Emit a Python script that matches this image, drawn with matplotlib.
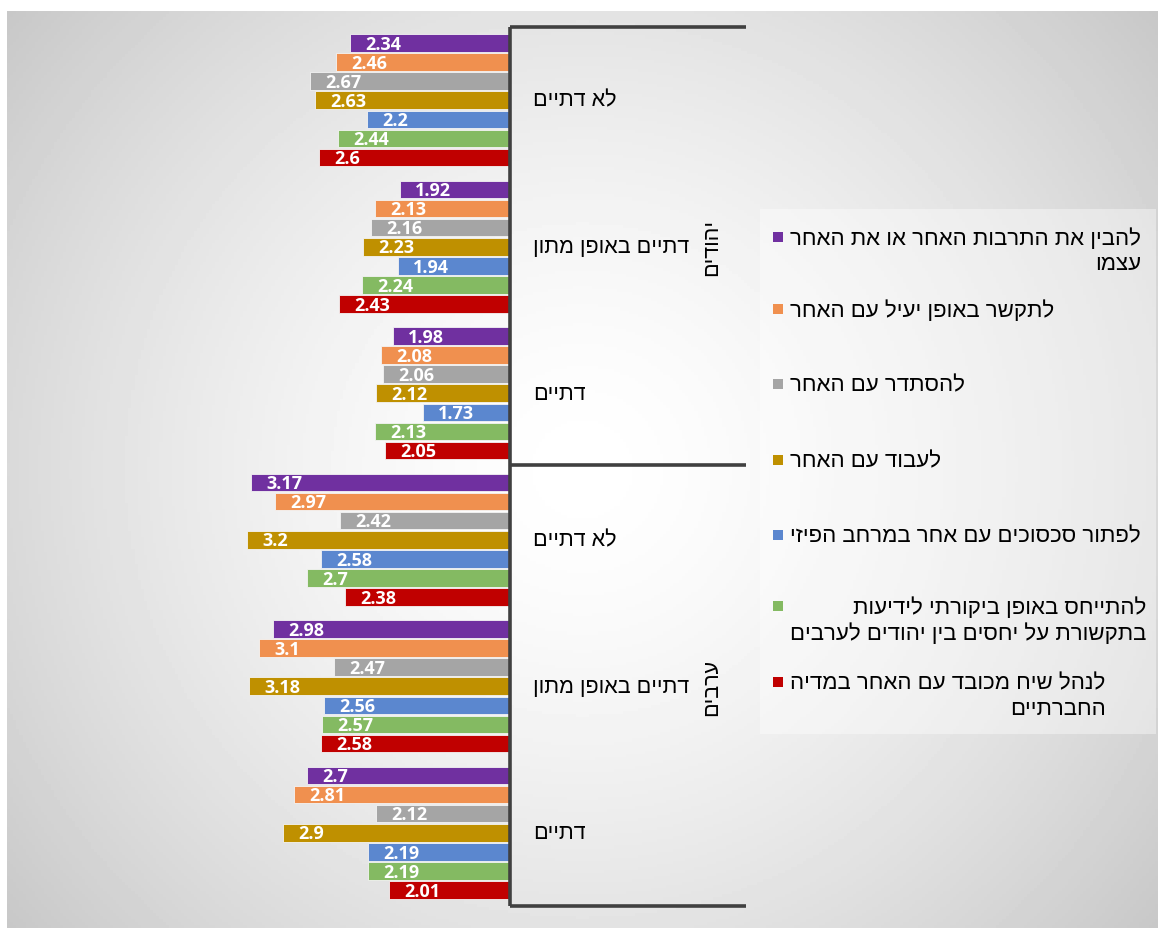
import numpy as np
import matplotlib.pyplot as plt
from matplotlib.lines import Line2D
from matplotlib.patches import Rectangle

plt.rcParams['font.family'] = ['Liberation Sans', 'DejaVu Sans']

# data (top group first, series in legend order)
groups = ['לא דתיים', 'דתיים באופן מתון', 'דתיים',
          'לא דתיים', 'דתיים באופן מתון', 'דתיים']
outer = ['יהודים', 'ערבים']
series = [
    'להבין את התרבות האחר או את האחר\nעצמו',
    'לתקשר באופן יעיל עם האחר',
    'להסתדר עם האחר',
    'לעבוד עם האחר',
    'לפתור סכסוכים עם אחר במרחב הפיזי',
    'להתייחס באופן ביקורתי לידיעות\nבתקשורת על יחסים בין יהודים לערבים',
    'לנהל שיח מכובד עם האחר במדיה\nהחברתיים',
]
values = [
    [2.34, 2.46, 2.67, 2.63, 2.2, 2.44, 2.6],
    [1.92, 2.13, 2.16, 2.23, 1.94, 2.24, 2.43],
    [1.98, 2.08, 2.06, 2.12, 1.73, 2.13, 2.05],
    [3.17, 2.97, 2.42, 3.2, 2.58, 2.7, 2.38],
    [2.98, 3.1, 2.47, 3.18, 2.56, 2.57, 2.58],
    [2.7, 2.81, 2.12, 2.9, 2.19, 2.19, 2.01],
]
colors = ['#7030A0', '#F0904F', '#A5A5A5', '#BF9000', '#5B87CF', '#84BA62', '#C00000']


def heb(s):
    # matplotlib has no bidi support: reverse each line for visual order
    return '\n'.join(line[::-1] for line in s.split('\n'))


W, H = 1158, 929
fig = plt.figure(figsize=(W / 100, H / 100), dpi=100)
fig.patch.set_facecolor('white')

# gray radial gradient box
bg = fig.add_axes([7 / W, 0, 1 - 7 / W, 1 - 12 / H])
bg.set_axis_off()
yy, xx = np.mgrid[0:1:300j, 0:1:370j]
r = np.sqrt(((xx - 0.5) / 0.65) ** 2 + ((yy - 0.5) / 0.8) ** 2)
shade = np.clip(1 - 0.22 * r ** 1.5, 0.78, 1)
bg.imshow(shade, cmap='gray', vmin=0, vmax=1, aspect='auto', extent=[0, 1, 0, 1])

# bar axes
ax = fig.add_axes([32 / W, 1 - 907 / H, (510 - 32) / W, 879 / H])
ax.patch.set_alpha(0)
step = 19.1 / 146.5
for i, row in enumerate(values):
    for j, v in enumerate(row):
        y = i + 0.5 + (j - 3) * step
        ax.barh(y, v - 1, left=1, height=0.12, color=colors[j],
                edgecolor='#f4f4f4', linewidth=0.6)
        ax.annotate(f'{v:g}', (v, y), xytext=(11, -0.5), textcoords='offset points',
                    ha='left', va='center', color='white', fontsize=13,
                    fontweight='bold', family=['Open Sans', 'DejaVu Sans'])
ax.set_xlim(5, 1)
ax.set_ylim(6, 0)
ax.set_axis_off()

# multi-level category axis
ln = dict(color='#404040', linewidth=2.6, transform=fig.transFigure, solid_capstyle='butt')
def fx(px): return px / W
def fy(py): return 1 - py / H
fig.add_artist(Line2D([fx(510), fx(510)], [fy(28), fy(907)], **ln))
for py in (28, 466, 907):
    fig.add_artist(Line2D([fx(510), fx(746)], [fy(py), fy(py)], **ln))

for i, g in enumerate(groups):
    fig.text(fx(533), fy(28 + 146.5 * (i + 0.5)), heb(g), ha='left', va='center',
             fontsize=15.5, color='black')
for k, o in enumerate(outer):
    fig.text(fx(712), fy(28 + 146.5 * (3 * k + 1.5)), heb(o), ha='center', va='center',
             rotation=90, fontsize=15.5, color='black')

# legend
fig.add_artist(Rectangle((fx(760), fy(735)), fx(1156) - fx(760), fy(210) - fy(735),
                         transform=fig.transFigure, facecolor='white', alpha=0.4,
                         edgecolor='none'))
leg_y = [238, 310, 385, 461, 536, 607, 683]
for k, s in enumerate(series):
    fig.add_artist(Rectangle((fx(773), fy(leg_y[k] + 5)), 10 / W, 10 / H,
                             transform=fig.transFigure, facecolor=colors[k],
                             edgecolor='none'))
    fig.text(fx(790), fy(leg_y[k] - 10), heb(s), ha='left', va='top',
             multialignment='right', fontsize=16, color='black', linespacing=1.3)

fig.savefig('out.png', dpi=100)
